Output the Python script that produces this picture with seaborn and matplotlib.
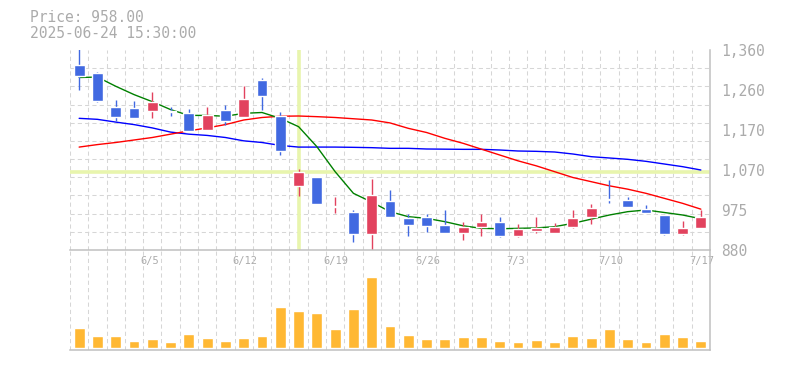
import numpy as np
import matplotlib
matplotlib.use('Agg')
import matplotlib.pyplot as plt
import matplotlib.transforms as mtransforms
import seaborn as sns

# daily candles 2025-05-30 .. 2025-07-17
dates = ['5/30', '6/2', '6/3', '6/4', '6/5', '6/6', '6/9', '6/10', '6/11', '6/12',
         '6/13', '6/16', '6/17', '6/18', '6/19', '6/20', '6/23', '6/24', '6/25', '6/26',
         '6/27', '6/30', '7/1', '7/2', '7/3', '7/4', '7/7', '7/8', '7/9', '7/10',
         '7/11', '7/14', '7/15', '7/16', '7/17']
opens = [1325, 1305, 1222, 1221, 1214, 1211.5, 1209, 1169, 1216, 1198,
         1288, 1202, 1034, 1055, 982, 971, 919, 998, 957, 959,
         940, 921.5, 936, 946.5, 913.6, 925.6, 921.5, 936, 958, 1000.5,
         1000, 978.4, 964, 919, 933.6]
highs = [1375, 1307, 1241, 1238, 1259, 1222, 1218, 1222, 1229, 1274,
         1293, 1210, 1075, 1055, 1008, 976, 1050, 1024, 966, 966,
         977, 948, 966, 960, 942, 958, 945, 976, 990, 1048,
         1008, 988, 964, 950, 977]
lows = [1265, 1234, 1190, 1197, 1197, 1202, 1166, 1169, 1181, 1198,
        1216, 1109, 1010, 990, 969.6, 900, 878, 958, 913.6, 924,
        921.5, 904, 913.6, 912, 912, 921.5, 921.5, 932, 942, 992,
        982.4, 968, 916.8, 916.8, 933.6]
closes = [1298, 1238, 1199, 1197, 1235, 1211, 1166, 1203, 1190, 1242,
          1250, 1118, 1066, 990, 983, 919, 1012, 958, 940, 938.4,
          921.5, 935.2, 947, 913.6, 930.4, 932, 936, 956.8, 981, 1000,
          984, 969.6, 919, 932.8, 959.2]
volumes = [6000, 3600, 3600, 2100, 2700, 1800, 4200, 3000, 2100, 3000,
           3600, 12300, 11100, 10500, 5700, 11700, 21300, 6600, 3900, 2700,
           2700, 3300, 3300, 2100, 1800, 2400, 1800, 3600, 3000, 5700,
           2700, 1800, 4200, 3300, 2100]

# moving averages
ma_short = [1294, 1295, 1273, 1253, 1236, 1217, 1203, 1203, 1201, 1208,
            1210, 1196, 1176, 1128, 1068, 1016, 995, 972, 960, 956,
            948, 938, 932, 931, 932, 933, 936, 944, 954, 964,
            972, 976, 970, 964, 955]
ma_mid = [1127, 1133, 1138, 1144, 1150, 1158, 1166, 1173, 1181, 1192,
          1198, 1201, 1201.6, 1200, 1198, 1195, 1192, 1185, 1172, 1162,
          1148, 1136, 1122, 1108, 1094, 1082, 1068, 1054, 1044, 1034,
          1026, 1016, 1004, 992, 978]
ma_long = [1196, 1193.6, 1187, 1181, 1173, 1163, 1158, 1155, 1150, 1142,
           1138, 1131, 1127, 1127, 1127, 1126.4, 1125.6, 1124, 1124, 1122.4,
           1122, 1121.6, 1121.6, 1120, 1117.6, 1116.8, 1115.2, 1110.4, 1104, 1100.8,
           1097.6, 1092.8, 1086.4, 1080, 1072]

ytick_labels = ['880', '975', '1,070', '1,170', '1,260', '1,360']
header = ['Price: 958.00', '2025-06-24 15:30:00']
cross_idx = 12
cross_price = 1067

sns.set_style('white')
plt.rcParams['font.family'] = ['DejaVu Sans Mono', 'DejaVu Sans']

up_col = '#e2425e'
down_col = '#4169e1'
grid_col = '#d6d6d6'
frame_col = '#c0c0c0'
text_col = '#ababab'

idx = np.arange(len(dates))
o = np.array(opens)
c = np.array(closes)
cols = [up_col if cc >= oo else down_col for oo, cc in zip(o, c)]

fig = plt.figure(figsize=(7.85, 3.70), dpi=100)
ax = fig.add_axes([70 / 785, 120 / 370, 640 / 785, 200 / 370])
axv = fig.add_axes([70 / 785, 20 / 370, 640 / 785, 100 / 370])
axv.patch.set_alpha(0)

# crosshair
ax.axvline(cross_idx, color='#e8f5ad', lw=2.6, zorder=1.5)
ax.axhline(cross_price, color='#e8f5ad', lw=2.6, zorder=1.5)

# moving averages
sns.lineplot(x=idx, y=ma_long, color='#0000ff', lw=1.0, ax=ax, zorder=2)
sns.lineplot(x=idx, y=ma_mid, color='#ff0000', lw=1.0, ax=ax, zorder=2)
sns.lineplot(x=idx, y=ma_short, color='#008000', lw=1.0, ax=ax, zorder=2)

# candles
ax.vlines(idx, lows, highs, colors=cols, lw=1.0, zorder=3)
body_h = np.maximum(np.abs(c - o), 2.5)
ax.bar(idx, body_h, bottom=np.minimum(o, c), width=0.6, color=cols, zorder=4)

# volume
sns.barplot(x=idx, y=volumes, native_scale=True, width=0.6, color='#ffb833',
            saturation=1, errorbar=None, ax=axv, zorder=3)

for a in (ax, axv):
    a.set_xlim(-0.5, len(dates) - 0.5)
    a.set_xlabel('')
    a.set_ylabel('')
    a.set_xticks(np.arange(-0.5, len(dates), 1), minor=True)
    a.grid(which='minor', axis='x', color=grid_col, lw=0.75, dashes=(4, 3))
    a.tick_params(which='both', length=0)
    for s in ('top', 'left'):
        a.spines[s].set_visible(False)
    for s in ('bottom', 'right'):
        a.spines[s].set_color(frame_col)
        a.spines[s].set_linewidth(1.1)
        a.spines[s].set_zorder(5)

ax.set_ylim(880, 1360)
ax.set_yticks(np.linspace(880, 1360, 12), minor=True)
ax.grid(which='minor', axis='y', color=grid_col, lw=0.75, dashes=(4, 3))
ax.set_yticks(np.linspace(880, 1360, 6))
ax.set_yticklabels(ytick_labels)
ax.yaxis.tick_right()
ax.tick_params(axis='y', pad=8, labelsize=10.5, labelcolor=text_col)

lab_idx = idx[4::5]
ax.set_xticks(lab_idx)
ax.set_xticklabels([dates[i] for i in lab_idx])
ax.tick_params(axis='x', pad=4.5, labelsize=7.5, labelcolor=text_col)
shift = mtransforms.ScaledTranslation(-11.5 / 100, 0, fig.dpi_scale_trans)
for t in ax.get_xticklabels():
    t.set_horizontalalignment('left')
    t.set_transform(t.get_transform() + shift)

axv.set_ylim(-600, 29400)
axv.set_yticks([])
axv.set_xticks([])
axv.set_xticks(np.arange(-0.5, len(dates), 1), minor=True)

fig.text(30 / 785, 1 - 18 / 370, header[0], fontsize=10.5, color=text_col, va='center')
fig.text(30 / 785, 1 - 33 / 370, header[1], fontsize=10.5, color=text_col, va='center')

fig.savefig('out.png', dpi=100)
